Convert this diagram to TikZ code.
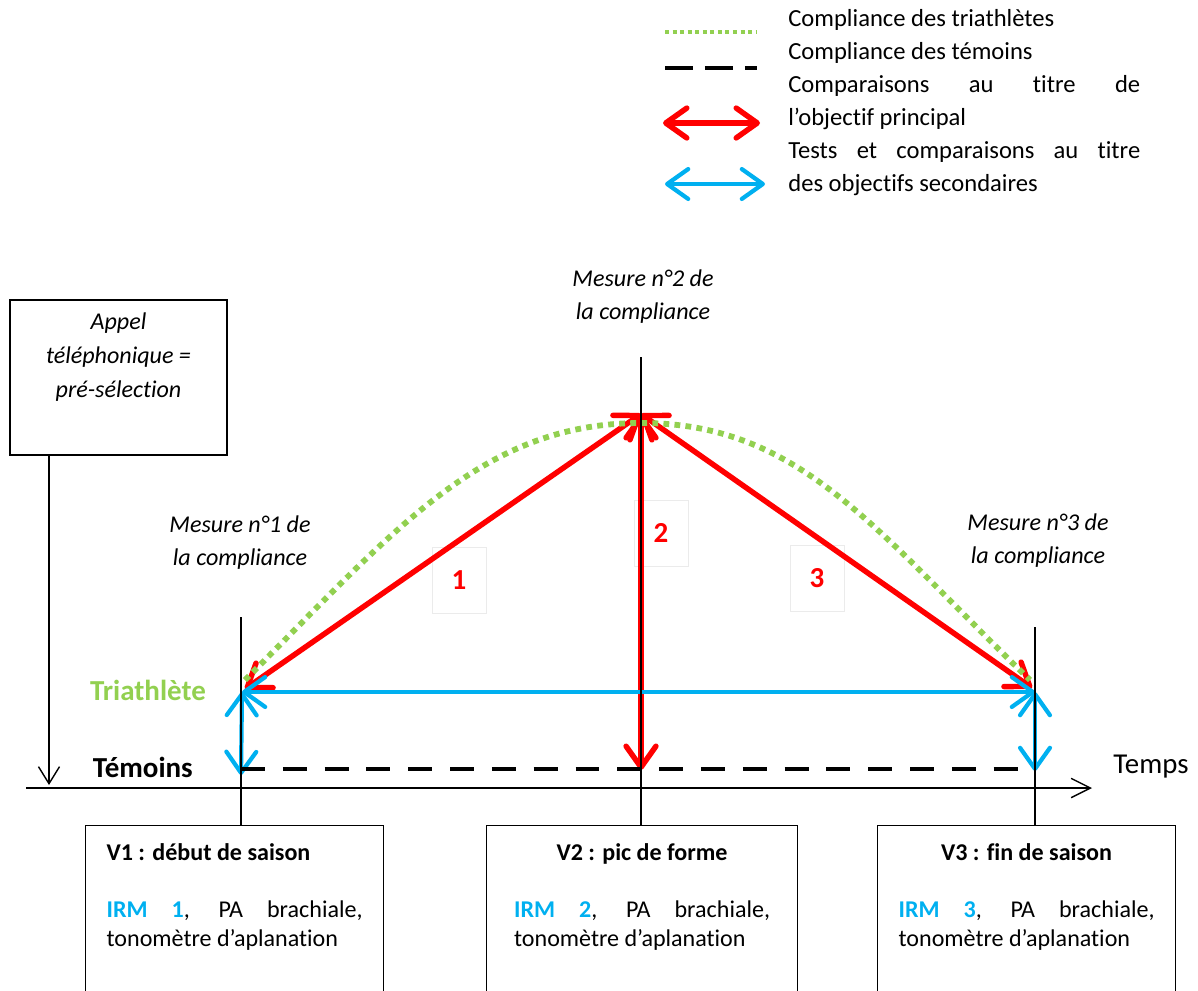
\documentclass[tikz,border=0pt]{standalone}
\usepackage{fontspec}
\setmainfont{Carlito}[Ligatures=CommonOff]
\usepackage{tikz}
\usetikzlibrary{arrows.meta}

\definecolor{vertcompliance}{HTML}{92D050}
\definecolor{rougeobj}{HTML}{FF0000}
\definecolor{bleuobj}{HTML}{00B0F0}
\definecolor{griscadre}{HTML}{EBEBEB}
\setlength{\parindent}{0pt}
\hyphenpenalty=10000
\exhyphenpenalty=10000

\begin{document}
\begin{tikzpicture}[x=0.02cm,y=-0.02cm,
			>={Straight Barb[length=12pt,width=17pt,round]},
			legende/.style={font=\fontsize{14}{18.8}\selectfont,text width=7.04cm,align=justify,inner sep=0pt},
			mesure/.style={font=\fontsize{13.7}{18.8}\selectfont\itshape,align=center},
			boite/.style={draw,line width=0.7pt,font=\fontsize{13.7}{16.5}\selectfont,text width=5.12cm,align=justify,inner xsep=0.42cm,inner ysep=0.35cm,anchor=north west},
			numero/.style={draw=griscadre,line width=0.5pt,text=rougeobj,font=\fontsize{16.5}{18}\selectfont\bfseries,minimum width=1.08cm,minimum height=1.32cm},
			groupe/.style={font=\fontsize{16.5}{18}\selectfont\bfseries,anchor=east},
			trait/.style={line width=0.8pt},
			obj/.style={rougeobj,line width=3.1pt,<->},
			sec/.style={bleuobj,line width=2.4pt,<->},
			compliance/.style={vertcompliance,line width=3.3pt,dash pattern=on 3.3pt off 3pt},
			temoin/.style={line width=2.8pt,dash pattern=on 13.6pt off 10.2pt}]
			\useasboundingbox (0,0) rectangle (1198,991);

			\draw[vertcompliance,line width=2.2pt,dash pattern=on 2.3pt off 2pt] (665,32) -- (757,32);
			\draw[line width=2.3pt,dash pattern=on 15.9pt off 6.8pt] (665,68) -- (757,68);
			\draw[obj] (663,123) -- (760,123);
			\draw[sec] (665,184) -- (765,184);
			\node[legende,anchor=north west] (legende) at (788,9) {Compliance des triathlètes\par
				Compliance des témoins\par
				Comparaisons au titre de\linebreak l’objectif principal\par
				Tests et comparaisons au titre\linebreak des objectifs secondaires};

			\coordinate (haut1) at (241,617);
			\coordinate (haut2) at (641,357);
			\coordinate (haut3) at (1035,627);
			\coordinate (sommet) at (641,414);
			\coordinate (rouge1) at (245,689);
			\coordinate (rouge3) at (1032,688);
			\coordinate (tri1) at (242,692);
			\coordinate (tri3) at (1035,692);
			\coordinate (tem1) at (241,775);
			\coordinate (tem2) at (641,770);
			\coordinate (tem3) at (1035,771);
			\coordinate (vert1) at (245,680);
			\coordinate (vert2) at (641,423);
			\coordinate (vert3) at (1030,680);
			\coordinate (temoin1) at (241,769);
			\coordinate (temoin3) at (1030,769);
			\coordinate (axe0) at (26,788);
			\coordinate (axe1) at (1092,788);
			\coordinate (appelfin) at (49,785);

			\node[draw,line width=0.7pt,mesure,font=\fontsize{13.7}{19.5}\selectfont\itshape,minimum width=4.34cm,minimum height=3.1cm] (appel) at (118.5,377.5) {Appel\\téléphonique =\\pré-sélection\\\strut};
			\node[mesure] (mesure1) at (240,543) {Mesure n°1 de\\la compliance};
			\node[mesure] (mesure2) at (643,297) {Mesure n°2 de\\la compliance};
			\node[mesure] (mesure3) at (1038,541) {Mesure n°3 de\\la compliance};

			\node[numero] (num1) at (459,580) {1};
			\node[numero] (num2) at (661,533) {2};
			\node[numero] (num3) at (817,578) {3};

			\node[groupe,text=vertcompliance] (triathlete) at (212,690) {Triathlète};
			\node[groupe] (temoins) at (199,767) {Témoins};
			\node[font=\fontsize{16.4}{18}\selectfont] (temps) at (1151,767) {Temps};

			\node[boite] (v1) at (85,825) {\textbf{V1 : début de saison}\par\vspace{16.5pt}
				\textcolor{bleuobj}{\textbf{IRM 1}}, PA brachiale,\linebreak tonomètre d’aplanation\par\rule{0pt}{3cm}};
			\node[boite,minimum width=6.22cm] (v2) at (486,825) {{\centering\textbf{V2 : pic de forme}\par}\vspace{16.5pt}
				\textcolor{bleuobj}{\textbf{IRM 2}}, PA brachiale,\linebreak tonomètre d’aplanation\par\rule{0pt}{3cm}};
			\node[boite] (v3) at (877,825) {{\centering\textbf{V3 : fin de saison}\par}\vspace{16.5pt}
				\textcolor{bleuobj}{\textbf{IRM 3}}, PA brachiale,\linebreak tonomètre d’aplanation\par\rule{0pt}{3cm}};

			\draw[obj] (rouge1) -- (sommet);
			\draw[obj] (sommet) -- (tem2);
			\draw[obj] (sommet) -- (rouge3);
			\draw[sec] (tri1) -- (tri3);
			\draw[sec] (tri1) -- (tem1);
			\draw[sec] (tri3) -- (tem3);
			\draw[compliance] (vert1) .. controls +(151,-151) and +(-159,0) .. (vert2)
				.. controls +(159,0) and +(-156,-151) .. (vert3);
			\draw[temoin] (temoin1) -- (temoin3);

			\draw[trait] (haut1) -- (v1.north -| haut1);
			\draw[trait] (haut2) -- (v2.north -| haut2);
			\draw[trait] (haut3) -- (v3.north -| haut3);
			\draw[trait,-{Straight Barb[length=11pt,width=11pt]}] (axe0) -- (axe1);
			\draw[trait,-{Straight Barb[length=9.7pt,width=12pt]}] (appel.south -| appelfin) -- (appelfin);
		\end{tikzpicture}
\end{document}
